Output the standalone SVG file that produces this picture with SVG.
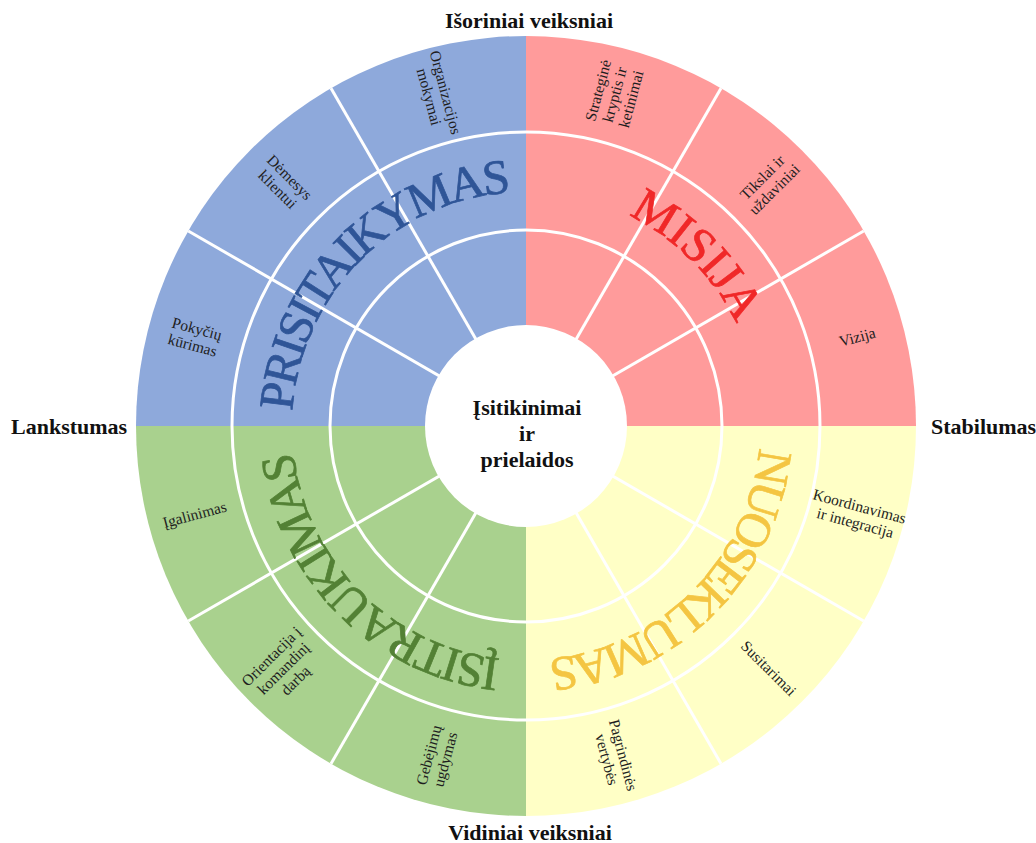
<svg xmlns="http://www.w3.org/2000/svg" xmlns:xlink="http://www.w3.org/1999/xlink" width="1036" height="843" viewBox="0 0 1036 843">
  <defs>
    <style>
      .axis { font-family: "Liberation Serif", "Times New Roman", serif; font-weight: bold; font-size: 22px; fill: #111; }
      .core { font-family: "Liberation Serif", "Times New Roman", serif; font-weight: bold; font-size: 22px; fill: #111; text-anchor: middle; }
      .item { font-family: "Liberation Serif", "Times New Roman", serif; font-size: 15.5px; fill: #1e1e1e; text-anchor: middle; }
      .trait { font-family: "Liberation Serif", "Times New Roman", serif; font-size: 49px; text-anchor: middle; stroke-width: 0.7; }
      .sep { stroke: #ffffff; stroke-width: 3; fill: none; }
    </style>
    <!-- clockwise baseline arcs (r = 234) for the four trait names -->
    <path id="arc-adapt" d="M 292 426 A 234 234 0 0 1 526 192"/>
    <path id="arc-mission" d="M 526 192 A 234 234 0 0 1 760 426"/>
    <path id="arc-consist" d="M 760 426 A 234 234 0 0 1 526 660"/>
    <path id="arc-involve" d="M 526 660 A 234 234 0 0 1 292 426"/>
  </defs>

  <rect width="1036" height="843" fill="#ffffff"/>

  <!-- quadrants -->
  <g id="quadrant-adaptability">
    <path d="M 526 426 L 136 426 A 390 390 0 0 1 526 36 Z" fill="#8EA9DB"/>
  </g>
  <g id="quadrant-mission">
    <path d="M 526 426 L 526 36 A 390 390 0 0 1 916 426 Z" fill="#FF9B9B"/>
  </g>
  <g id="quadrant-consistency">
    <path d="M 526 426 L 916 426 A 390 390 0 0 1 526 816 Z" fill="#FFFFC6"/>
  </g>
  <g id="quadrant-involvement">
    <path d="M 526 426 L 526 816 A 390 390 0 0 1 136 426 Z" fill="#A9D18E"/>
  </g>

  <!-- ring and segment dividers -->
  <g id="dividers" class="sep">
    <circle cx="526" cy="426" r="196"/>
    <circle cx="526" cy="426" r="294"/>
    <line x1="526" y1="426" x2="863.7" y2="621"/>
    <line x1="526" y1="426" x2="721" y2="763.7"/>
    <line x1="526" y1="426" x2="331" y2="763.7"/>
    <line x1="526" y1="426" x2="188.3" y2="621"/>
    <line x1="526" y1="426" x2="188.3" y2="231"/>
    <line x1="526" y1="426" x2="331" y2="88.3"/>
    <line x1="526" y1="426" x2="721" y2="88.3"/>
    <line x1="526" y1="426" x2="863.7" y2="231"/>
  </g>

  <!-- core -->
  <g id="core">
    <circle cx="526" cy="426" r="101" fill="#ffffff"/>
    <text class="core"><tspan x="527" y="415">Įsitikinimai</tspan><tspan x="527" y="441">ir</tspan><tspan x="527" y="467">prielaidos</tspan></text>
  </g>

  <!-- trait names -->
  <g id="trait-adaptability">
    <text class="trait" fill="#2F5597" stroke="#2F5597"><textPath xlink:href="#arc-adapt" href="#arc-adapt" startOffset="50%" textLength="338" lengthAdjust="spacing">PRISITAIKYMAS</textPath></text>
  </g>
  <g id="trait-mission">
    <text class="trait" fill="#F02828" stroke="#F02828"><textPath xlink:href="#arc-mission" href="#arc-mission" startOffset="50%" textLength="156" lengthAdjust="spacing">MISIJA</textPath></text>
  </g>
  <g id="trait-consistency">
    <text class="trait" fill="#F4C542" stroke="#F4C542"><textPath xlink:href="#arc-consist" href="#arc-consist" startOffset="50%" textLength="324" lengthAdjust="spacing">NUOSEKLUMAS</textPath></text>
  </g>
  <g id="trait-involvement">
    <text class="trait" fill="#538135" stroke="#538135"><textPath xlink:href="#arc-involve" href="#arc-involve" startOffset="50%" textLength="316" lengthAdjust="spacing">ĮSITRAUKIMAS</textPath></text>
  </g>

  <!-- outer ring items -->
  <g id="item-pokyciu" transform="translate(194.7 337.2) rotate(15)">
    <text class="item"><tspan x="0" y="-3.5">Pokyčių</tspan><tspan x="0" y="13.5">kūrimas</tspan></text>
  </g>
  <g id="item-demesys" transform="translate(283.5 183.5) rotate(45)">
    <text class="item"><tspan x="0" y="-3.5">Dėmesys</tspan><tspan x="0" y="13.5">klientui</tspan></text>
  </g>
  <g id="item-organizacijos" transform="translate(437.2 94.7) rotate(75)">
    <text class="item"><tspan x="0" y="-3.5">Organizacijos</tspan><tspan x="0" y="13.5">mokymai</tspan></text>
  </g>
  <g id="item-strategine" transform="translate(614.8 94.7) rotate(-75)">
    <text class="item"><tspan x="0" y="-12">Strateginė</tspan><tspan x="0" y="5">kryptis ir</tspan><tspan x="0" y="22">ketinimai</tspan></text>
  </g>
  <g id="item-tikslai" transform="translate(768.5 183.5) rotate(-45)">
    <text class="item"><tspan x="0" y="-3.5">Tikslai ir</tspan><tspan x="0" y="13.5">uždaviniai</tspan></text>
  </g>
  <g id="item-vizija" transform="translate(857.3 337.2) rotate(-15)">
    <text class="item" x="0" y="5">Vizija</text>
  </g>
  <g id="item-koordinavimas" transform="translate(857.3 514.8) rotate(15)">
    <text class="item"><tspan x="0" y="-3.5">Koordinavimas</tspan><tspan x="0" y="13.5">ir integracija</tspan></text>
  </g>
  <g id="item-susitarimai" transform="translate(768.5 668.5) rotate(45)">
    <text class="item" x="0" y="5">Susitarimai</text>
  </g>
  <g id="item-vertybes" transform="translate(614.8 757.3) rotate(75)">
    <text class="item"><tspan x="0" y="-3.5">Pagrindinės</tspan><tspan x="0" y="13.5">vertybės</tspan></text>
  </g>
  <g id="item-gebejimu" transform="translate(437.2 757.3) rotate(-75)">
    <text class="item"><tspan x="0" y="-3.5">Gebėjimų</tspan><tspan x="0" y="13.5">ugdymas</tspan></text>
  </g>
  <g id="item-orientacija" transform="translate(283.5 668.5) rotate(-45)">
    <text class="item"><tspan x="0" y="-12">Orientacija į</tspan><tspan x="0" y="5">komandinį</tspan><tspan x="0" y="22">darbą</tspan></text>
  </g>
  <g id="item-igalinimas" transform="translate(194.7 514.8) rotate(-15)">
    <text class="item" x="0" y="5">Įgalinimas</text>
  </g>

  <!-- axis labels -->
  <g id="axis-labels">
    <text class="axis" x="529" y="28" text-anchor="middle">Išoriniai veiksniai</text>
    <text class="axis" x="530" y="840" text-anchor="middle">Vidiniai veiksniai</text>
    <text class="axis" x="11" y="434">Lankstumas</text>
    <text class="axis" x="931" y="434">Stabilumas</text>
  </g>
</svg>
